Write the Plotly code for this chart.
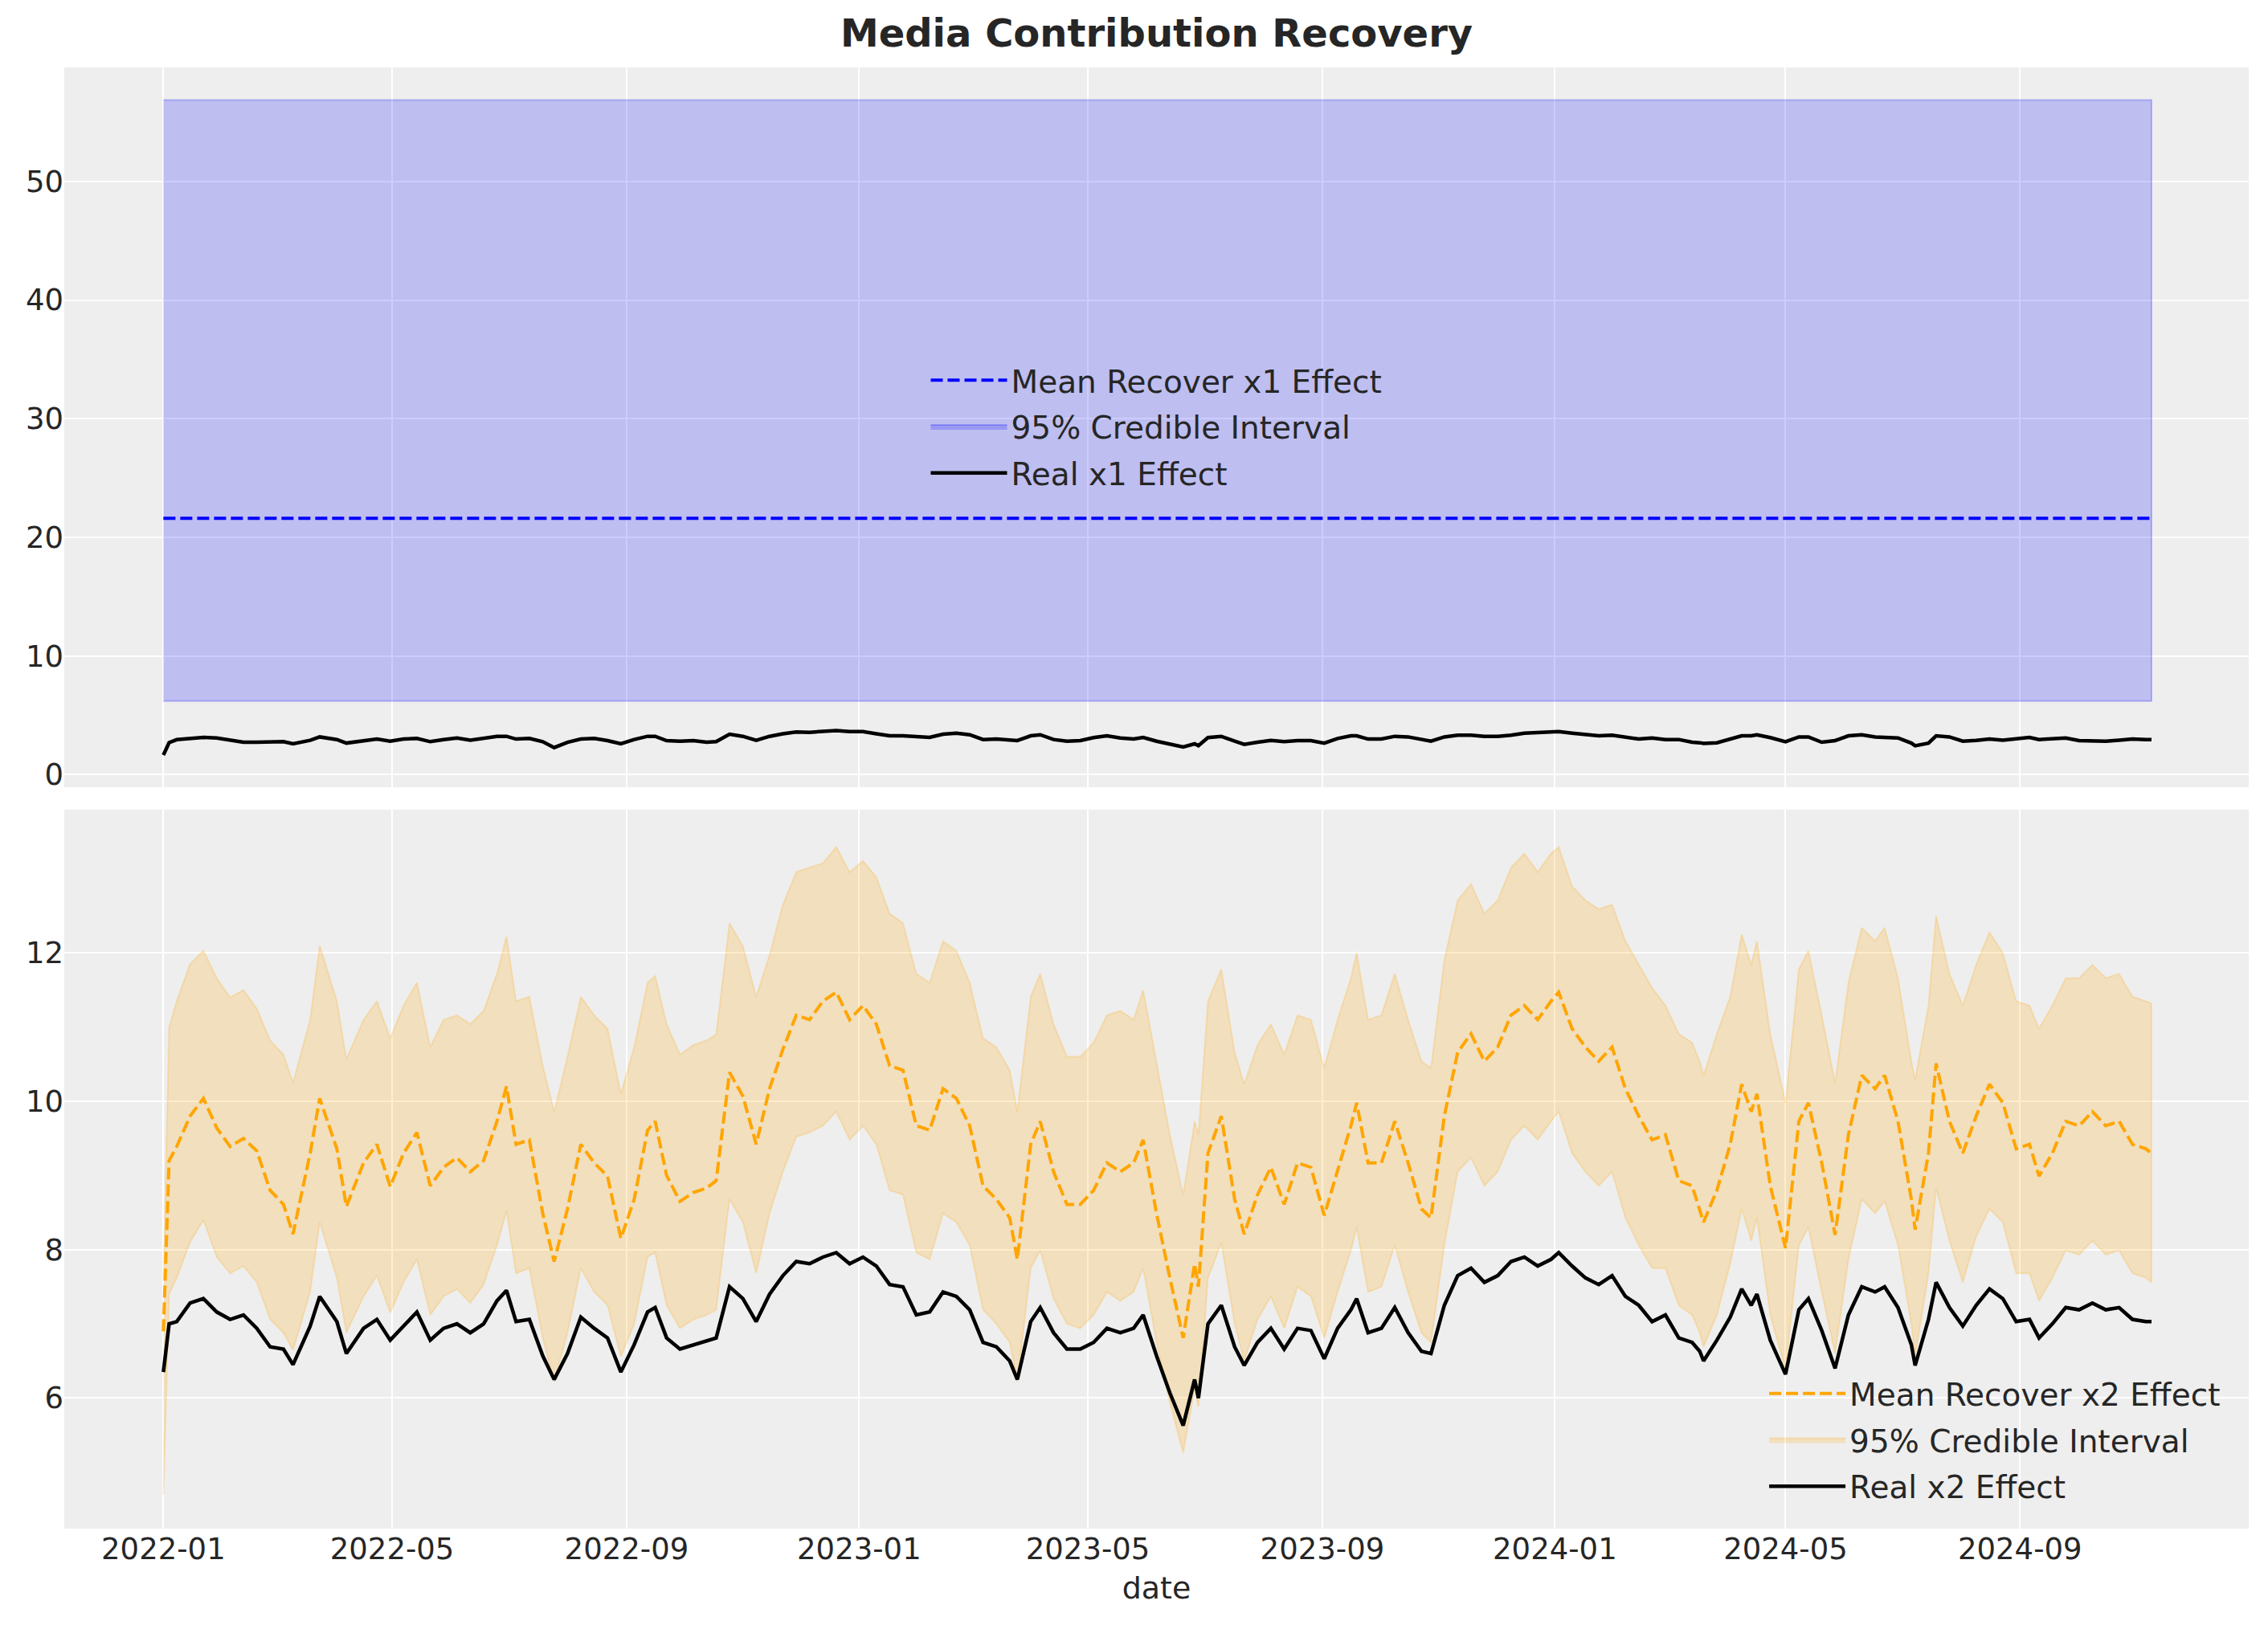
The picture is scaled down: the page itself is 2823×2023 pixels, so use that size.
import pandas as pd
import plotly.graph_objects as go

day_offsets = [0, 3, 7, 14, 21, 28, 35, 42, 49, 56, 63, 68, 77, 82, 91, 96, 105, 112, 119, 126,
               133, 140, 147, 154, 161, 168, 175, 180, 185, 192, 199, 205, 212, 219, 226, 233, 240,
               247, 254, 258, 264, 271, 278, 285, 290, 297, 304, 311, 318, 325, 332, 339, 346, 353,
               360, 367, 374, 381, 388, 395, 402, 409, 416, 423, 430, 437, 444, 448, 455, 460, 467,
               474, 481, 488, 495, 502, 509, 514, 521, 528, 535, 541, 543, 548, 555, 562, 567, 574,
               581, 588, 595, 602, 609, 616, 623, 626, 632, 639, 646, 653, 660, 665, 672, 679, 686,
               693, 700, 707, 714, 721, 728, 732, 739, 746, 753, 760, 767, 774, 781, 788, 795, 802,
               806, 808, 815, 822, 828, 833, 836, 843, 851, 858, 863, 870, 877, 884, 891, 898, 903,
               910, 917, 919, 926, 930, 937, 944, 951, 958, 965, 972, 979, 984, 991, 998, 1005, 1012,
               1019, 1026, 1033, 1040, 1043]

# x1: posterior summary is flat, the real effect wiggles around 3
x1_mean_level = 21.6
x1_lower_level = 6.2
x1_upper_level = 56.85
x1_real = [1.65, 2.7, 2.95, 3.05, 3.14, 3.09, 2.89, 2.73, 2.73, 2.73, 2.78, 2.6, 2.89, 3.18, 2.96, 2.66,
           2.87, 3.0, 2.82, 3.0, 3.05, 2.78, 2.96, 3.09, 2.91, 3.05, 3.23, 3.23, 3.0, 3.05, 2.78, 2.28,
           2.73, 3.0, 3.05, 2.87, 2.6, 2.96, 3.23, 3.23, 2.87, 2.82, 2.87, 2.73, 2.78, 3.41, 3.23, 2.89,
           3.23, 3.45, 3.59, 3.57, 3.68, 3.72, 3.63, 3.63, 3.45, 3.27, 3.27, 3.18, 3.14, 3.41, 3.5, 3.36,
           2.96, 3.0, 2.96, 2.87, 3.27, 3.36, 2.96, 2.82, 2.87, 3.12, 3.27, 3.09, 3.0, 3.14, 2.82, 2.55,
           2.33, 2.6, 2.44, 3.12, 3.23, 2.82, 2.55, 2.73, 2.89, 2.78, 2.87, 2.87, 2.66, 3.05, 3.27, 3.27,
           3.0, 3.0, 3.23, 3.18, 2.96, 2.82, 3.18, 3.32, 3.32, 3.23, 3.23, 3.32, 3.5, 3.57, 3.63, 3.63,
           3.5, 3.36, 3.27, 3.32, 3.14, 3.0, 3.09, 2.96, 2.96, 2.73, 2.69, 2.64, 2.69, 3.0, 3.27, 3.27,
           3.36, 3.12, 2.78, 3.18, 3.18, 2.73, 2.87, 3.27, 3.36, 3.18, 3.14, 3.09, 2.66, 2.44, 2.66, 3.27,
           3.18, 2.82, 2.89, 3.0, 2.91, 3.0, 3.14, 2.96, 3.0, 3.09, 2.87, 2.87, 2.82, 2.91, 3.0, 2.96, 2.96]

# x2: posterior mean, 95% interval bounds and real effect
x2_mean = [6.9, 9.2, 9.39, 9.8, 10.04, 9.64, 9.39, 9.5, 9.33, 8.8, 8.61, 8.21, 9.3, 10.04, 9.36, 8.58,
           9.17, 9.42, 8.85, 9.3, 9.58, 8.86, 9.11, 9.24, 9.05, 9.2, 9.73, 10.2, 9.42, 9.48, 8.49, 7.84,
           8.55, 9.42, 9.17, 8.99, 8.15, 8.68, 9.61, 9.73, 9.0, 8.65, 8.77, 8.83, 8.93, 10.39, 10.07, 9.42,
           10.17, 10.7, 11.16, 11.1, 11.35, 11.47, 11.1, 11.29, 11.04, 10.48, 10.42, 9.67, 9.61, 10.17,
           10.04, 9.67, 8.86, 8.68, 8.43, 7.87, 9.42, 9.73, 9.05, 8.61, 8.61, 8.8, 9.17, 9.05, 9.17, 9.48,
           8.49, 7.62, 6.81, 7.81, 7.5, 9.3, 9.8, 8.68, 8.21, 8.74, 9.11, 8.61, 9.17, 9.11, 8.46, 9.05,
           9.67, 9.98, 9.17, 9.17, 9.73, 9.17, 8.55, 8.43, 9.8, 10.66, 10.91, 10.54, 10.73, 11.16, 11.29,
           11.1, 11.35, 11.47, 10.98, 10.73, 10.54, 10.73, 10.17, 9.8, 9.48, 9.55, 8.93, 8.86, 8.55, 8.37,
           8.8, 9.42, 10.23, 9.86, 10.1, 8.86, 8.02, 9.73, 9.98, 9.17, 8.2, 9.55, 10.35, 10.17, 10.35,
           9.73, 8.68, 8.27, 9.3, 10.51, 9.73, 9.3, 9.8, 10.23, 9.98, 9.36, 9.42, 8.99, 9.3, 9.73, 9.67,
           9.86, 9.67, 9.73, 9.42, 9.36, 9.3]
x2_lower = [4.7, 7.4, 7.62, 8.1, 8.4, 7.9, 7.68, 7.78, 7.56, 7.06, 6.88, 6.65, 7.43, 8.37, 7.62, 6.88,
            7.37, 7.65, 7.15, 7.56, 7.87, 7.12, 7.37, 7.47, 7.28, 7.53, 8.06, 8.52, 7.68, 7.75, 6.81, 6.22,
            6.88, 7.75, 7.43, 7.25, 6.56, 7.0, 7.9, 7.96, 7.25, 6.94, 7.06, 7.12, 7.19, 8.68, 8.37, 7.68,
            8.49, 9.05, 9.52, 9.58, 9.67, 9.86, 9.48, 9.67, 9.42, 8.8, 8.74, 7.96, 7.87, 8.49, 8.37, 8.06,
            7.19, 7.0, 6.75, 6.22, 7.75, 7.99, 7.34, 7.0, 6.94, 7.12, 7.43, 7.31, 7.43, 7.75, 6.75, 5.94,
            5.26, 6.13, 5.88, 7.62, 8.09, 7.0, 6.5, 7.06, 7.37, 6.94, 7.5, 7.37, 6.81, 7.43, 7.99, 8.3,
            7.43, 7.5, 8.06, 7.43, 6.88, 6.75, 8.06, 9.05, 9.24, 8.86, 9.05, 9.48, 9.67, 9.48, 9.73, 9.86,
            9.3, 9.05, 8.86, 9.05, 8.43, 8.06, 7.75, 7.75, 7.25, 7.12, 6.88, 6.69, 7.12, 7.81, 8.55, 8.12,
            8.43, 7.12, 6.38, 8.06, 8.3, 7.43, 6.6, 7.87, 8.68, 8.49, 8.65, 8.06, 7.0, 6.56, 7.68, 8.83,
            8.12, 7.56, 8.18, 8.55, 8.37, 7.68, 7.68, 7.31, 7.62, 7.99, 7.93, 8.12, 7.93, 7.99, 7.68, 7.62,
            7.56]
x2_upper = [7.6, 11.0, 11.35, 11.85, 12.03, 11.66, 11.4, 11.5, 11.25, 10.82, 10.63, 10.25, 11.1, 12.1,
            11.35, 10.57, 11.1, 11.35, 10.85, 11.29, 11.6, 10.73, 11.1, 11.16, 11.04, 11.22, 11.72, 12.22,
            11.35, 11.41, 10.48, 9.86, 10.6, 11.41, 11.16, 10.98, 10.1, 10.73, 11.6, 11.69, 11.04, 10.63,
            10.76, 10.82, 10.9, 12.4, 12.09, 11.41, 11.97, 12.65, 13.09, 13.15, 13.21, 13.43, 13.09, 13.24,
            13.02, 12.53, 12.4, 11.72, 11.6, 12.16, 12.03, 11.6, 10.85, 10.73, 10.42, 9.86, 11.41, 11.72,
            11.04, 10.6, 10.6, 10.79, 11.16, 11.22, 11.1, 11.5, 10.54, 9.55, 8.74, 9.73, 9.55, 11.35, 11.78,
            10.66, 10.23, 10.76, 11.04, 10.63, 11.16, 11.1, 10.45, 11.1, 11.66, 12.0, 11.1, 11.16, 11.72,
            11.1, 10.54, 10.45, 11.9, 12.71, 12.93, 12.53, 12.71, 13.15, 13.34, 13.09, 13.34, 13.43, 12.9,
            12.71, 12.59, 12.65, 12.16, 11.84, 11.53, 11.29, 10.91, 10.79, 10.54, 10.35, 10.91, 11.41,
            12.25, 11.84, 12.16, 10.91, 9.98, 11.78, 12.03, 11.16, 10.25, 11.6, 12.34, 12.16, 12.34, 11.66,
            10.54, 10.29, 11.29, 12.5, 11.72, 11.29, 11.84, 12.28, 12.0, 11.35, 11.29, 10.98, 11.29, 11.66,
            11.66, 11.84, 11.66, 11.72, 11.41, 11.35, 11.32]
x2_real = [6.35, 7.0, 7.03, 7.28, 7.34, 7.16, 7.06, 7.12, 6.94, 6.69, 6.66, 6.45, 6.97, 7.37, 7.03, 6.6,
           6.94, 7.06, 6.78, 6.97, 7.16, 6.78, 6.94, 7.0, 6.88, 7.0, 7.31, 7.45, 7.03, 7.06, 6.57, 6.25,
           6.6, 7.09, 6.94, 6.81, 6.35, 6.72, 7.16, 7.22, 6.81, 6.66, 6.72, 6.78, 6.81, 7.5, 7.34, 7.03,
           7.4, 7.65, 7.84, 7.81, 7.9, 7.96, 7.81, 7.9, 7.78, 7.53, 7.5, 7.12, 7.16, 7.43, 7.37, 7.19,
           6.75, 6.69, 6.5, 6.25, 7.03, 7.22, 6.88, 6.66, 6.66, 6.75, 6.94, 6.88, 6.94, 7.12, 6.57, 6.07,
           5.63, 6.25, 6.0, 7.0, 7.25, 6.69, 6.44, 6.75, 6.94, 6.66, 6.94, 6.91, 6.53, 6.94, 7.19, 7.34,
           6.88, 6.94, 7.22, 6.88, 6.63, 6.6, 7.25, 7.65, 7.75, 7.56, 7.65, 7.84, 7.9, 7.78, 7.87, 7.96,
           7.78, 7.62, 7.53, 7.65, 7.37, 7.25, 7.03, 7.12, 6.81, 6.75, 6.63, 6.5, 6.78, 7.09, 7.47, 7.25,
           7.4, 6.78, 6.32, 7.19, 7.34, 6.91, 6.4, 7.12, 7.5, 7.43, 7.5, 7.22, 6.72, 6.44, 7.06, 7.56,
           7.22, 6.97, 7.25, 7.47, 7.34, 7.03, 7.06, 6.81, 7.0, 7.22, 7.19, 7.28, 7.19, 7.22, 7.06, 7.03,
           7.03]

dates = pd.Timestamp("2022-01-01") + pd.to_timedelta(day_offsets, unit="D")
n = len(dates)
dates_list = list(dates)
band_x = dates_list + dates_list[::-1]

TEXT = "#262626"
FONT = "DejaVu Sans"
DASH = "15px,6px"

fig = go.Figure()

# ---- top panel: x1 ----
x1_band_y = [x1_upper_level] * n + [x1_lower_level] * n
fig.add_trace(go.Scatter(x=band_x, y=x1_band_y, mode="lines", fill="toself",
                         fillcolor="rgba(0,0,255,0.2)",
                         line=dict(color="rgba(0,0,255,0.22)", width=2),
                         name="95% Credible Interval", legend="legend", legendrank=2,
                         legendgroup="b1", hoverinfo="skip", xaxis="x", yaxis="y"))
fig.add_trace(go.Scatter(x=dates, y=[x1_mean_level] * n, mode="lines",
                         line=dict(color="#0000ff", width=4, dash=DASH),
                         name="Mean Recover x1 Effect", legend="legend", legendrank=1,
                         legendgroup="m1", xaxis="x", yaxis="y"))
fig.add_trace(go.Scatter(x=dates, y=x1_real, mode="lines",
                         line=dict(color="black", width=4.5),
                         name="Real x1 Effect", legend="legend", legendrank=3,
                         legendgroup="r1", xaxis="x", yaxis="y"))

# ---- bottom panel: x2 ----
x2_band_y = list(x2_upper) + list(x2_lower)[::-1]
fig.add_trace(go.Scatter(x=band_x, y=x2_band_y, mode="lines", fill="toself",
                         fillcolor="rgba(255,165,0,0.2)",
                         line=dict(color="rgba(255,165,0,0.2)", width=2),
                         name="95% Credible Interval", legend="legend2", legendrank=2,
                         legendgroup="b2", hoverinfo="skip", xaxis="x2", yaxis="y2"))
fig.add_trace(go.Scatter(x=dates, y=x2_mean, mode="lines",
                         line=dict(color="#ffa500", width=4, dash=DASH),
                         name="Mean Recover x2 Effect", legend="legend2", legendrank=1,
                         legendgroup="m2", xaxis="x2", yaxis="y2"))
fig.add_trace(go.Scatter(x=dates, y=x2_real, mode="lines",
                         line=dict(color="black", width=4.5),
                         name="Real x2 Effect", legend="legend2", legendrank=3,
                         legendgroup="r2", xaxis="x2", yaxis="y2"))

axis_common = dict(showgrid=True, gridcolor="white", gridwidth=2, zeroline=False,
                   showline=False, ticks="", automargin=False,
                   tickfont=dict(family=FONT, size=37, color=TEXT))
x_range = ["2021-11-10", "2024-12-30"]
legend_common = dict(xref="paper", yref="paper", bgcolor="rgba(0,0,0,0)", itemwidth=95,
                     traceorder="grouped", tracegroupgap=4,
                     font=dict(family=FONT, size=39, color=TEXT))

fig.update_layout(
    width=2823, height=2023,
    paper_bgcolor="white", plot_bgcolor="#eeeeee",
    margin=dict(l=80, r=24, t=84, b=120),
    font=dict(family=FONT, color=TEXT),
    title=dict(text="<b>Media Contribution Recovery</b>", x=0.5, xref="paper",
               xanchor="center", y=1 - 41 / 2023, yref="container", yanchor="middle",
               font=dict(family=FONT, size=48, color=TEXT)),
    xaxis=dict(axis_common, domain=[0, 1], anchor="y", matches="x2", range=x_range,
               showticklabels=False, tick0="2022-01-01", dtick="M4"),
    yaxis=dict(axis_common, domain=[0.5074, 1.0], anchor="x", range=[-1.06, 59.6],
               tick0=0, dtick=10),
    xaxis2=dict(axis_common, domain=[0, 1], anchor="y2", range=x_range,
                tick0="2022-01-01", dtick="M4", tickformat="%Y-%m",
                title=dict(text="date", standoff=14,
                           font=dict(family=FONT, size=38, color=TEXT))),
    yaxis2=dict(axis_common, domain=[0, 0.492], anchor="x2", range=[4.24, 13.93],
                tick0=6, dtick=2),
    legend=dict(legend_common, x=0.5, y=0.754, xanchor="center", yanchor="middle"),
    legend2=dict(legend_common, x=0.989, y=0.011, xanchor="right", yanchor="bottom"),
    showlegend=True,
)

# drop the browser's default body margin so the figure sits at the page origin
fig.write_html("out.html", config={"displayModeBar": False},
               post_script="document.body.style.margin='0';")
